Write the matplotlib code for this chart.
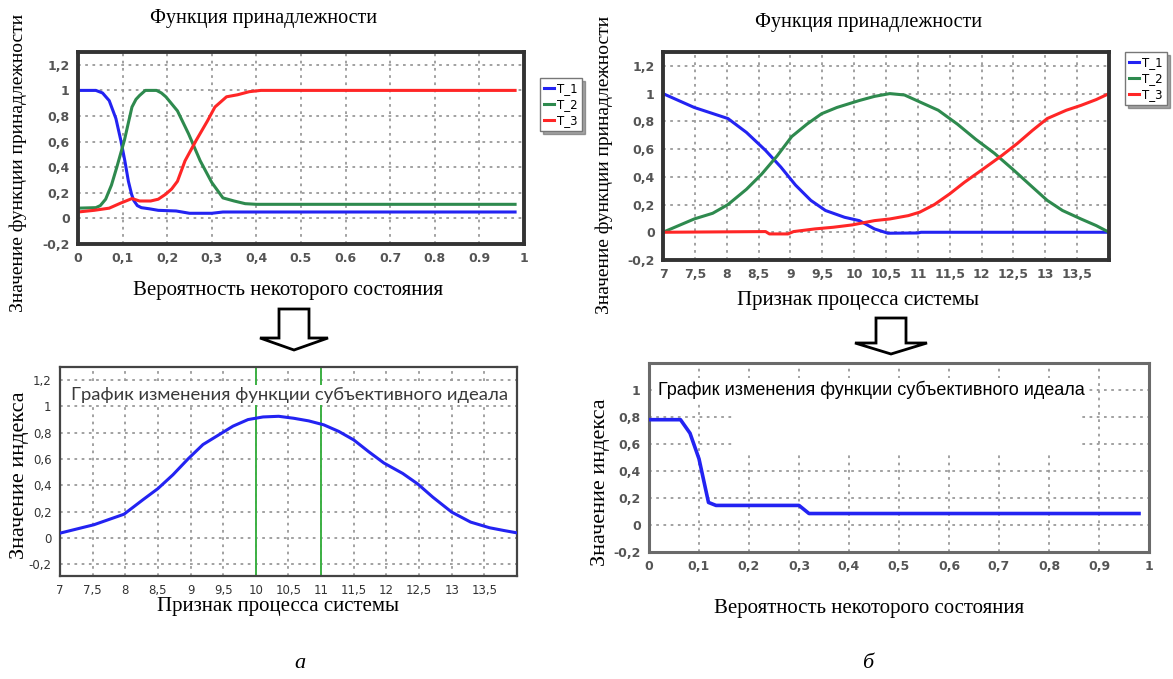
import matplotlib
matplotlib.use("Agg")
import matplotlib.pyplot as plt
from matplotlib.patches import Polygon, Rectangle

# ---- data ----
# top left: membership functions over probability
p_t1_x = [0, 0.04, 0.055, 0.07, 0.085, 0.096, 0.105, 0.113, 0.12, 0.125, 0.133, 0.142, 0.16,
          0.18, 0.22, 0.25, 0.3, 0.325, 0.98]
p_t1_y = [1.0, 1.0, 0.98, 0.92, 0.78, 0.61, 0.45, 0.29, 0.19, 0.14, 0.1, 0.084, 0.075,
          0.063, 0.058, 0.04, 0.04, 0.05, 0.05]
p_t2_x = [0, 0.04, 0.05, 0.062, 0.075, 0.087, 0.104, 0.121, 0.13, 0.138, 0.151, 0.176, 0.187,
          0.197, 0.223, 0.248, 0.274, 0.3, 0.325, 0.35, 0.375, 0.4, 0.98]
p_t2_y = [0.08, 0.084, 0.1, 0.15, 0.26, 0.4, 0.61, 0.87, 0.93, 0.96, 1.0, 1.0, 0.98,
          0.95, 0.84, 0.66, 0.45, 0.28, 0.16, 0.136, 0.115, 0.11, 0.11]
p_t3_x = [0, 0.036, 0.07, 0.096, 0.121, 0.138, 0.163, 0.18, 0.197, 0.21, 0.223, 0.24, 0.265,
          0.29, 0.307, 0.333, 0.358, 0.384, 0.41, 0.98]
p_t3_y = [0.05, 0.063, 0.08, 0.12, 0.155, 0.136, 0.136, 0.15, 0.19, 0.23, 0.29, 0.45, 0.61,
          0.76, 0.87, 0.95, 0.966, 0.99, 1.0, 1.0]

# top right: membership functions over system feature
s_t1_x = [7, 7.49, 8.02, 8.31, 8.61, 8.85, 9.08, 9.32, 9.55, 9.85, 10.08, 10.32, 10.53,
          11.0, 11.05, 14.0]
s_t1_y = [1.0, 0.9, 0.82, 0.72, 0.59, 0.47, 0.34, 0.23, 0.157, 0.108, 0.084, 0.024, -0.007,
          -0.005, 0.0, 0.0]
s_t2_x = [7, 7.49, 7.78, 8.02, 8.31, 8.55, 8.79, 9.02, 9.26, 9.49, 9.73, 10.08, 10.32, 10.56,
          10.79, 11.03, 11.32, 11.62, 11.91, 12.2, 12.5, 12.8, 13.03, 13.27, 13.56, 13.8, 14.0]
s_t2_y = [0.0, 0.096, 0.137, 0.2, 0.31, 0.42, 0.55, 0.69, 0.78, 0.855, 0.9, 0.95, 0.98, 1.0,
          0.99, 0.94, 0.88, 0.78, 0.67, 0.57, 0.45, 0.325, 0.23, 0.157, 0.096, 0.048, 0.0]
s_t3_x = [7, 8.61, 8.67, 8.96, 9.05, 9.38, 9.67, 9.97, 10.32, 10.56, 10.85, 11.03, 11.26,
          11.5, 11.73, 12.03, 12.32, 12.56, 12.8, 13.03, 13.33, 13.56, 13.8, 14.0]
s_t3_y = [0.0, 0.005, -0.012, -0.012, 0.005, 0.024, 0.036, 0.053, 0.084, 0.096, 0.12, 0.145,
          0.2, 0.277, 0.36, 0.458, 0.554, 0.64, 0.735, 0.82, 0.88, 0.915, 0.957, 1.0]

# bottom left: subjective ideal over system feature
ideal_a_x = [7, 7.52, 7.98, 8.27, 8.5, 8.73, 8.96, 9.19, 9.42, 9.65, 9.88, 10.11, 10.35,
             10.58, 10.81, 11.04, 11.27, 11.5, 11.73, 11.96, 12.25, 12.48, 12.71, 13.0,
             13.29, 13.58, 13.8, 14.0]
ideal_a_y = [0.036, 0.10, 0.18, 0.29, 0.375, 0.48, 0.6, 0.71, 0.78, 0.85, 0.9, 0.92, 0.925,
             0.91, 0.89, 0.86, 0.81, 0.745, 0.655, 0.57, 0.49, 0.41, 0.31, 0.196,
             0.12, 0.077, 0.056, 0.038]
ideal_bounds = [10, 11]

# bottom right: subjective ideal over probability
ideal_b_x = [0, 0.063, 0.082, 0.1, 0.119, 0.134, 0.3, 0.32, 0.98]
ideal_b_y = [0.78, 0.78, 0.68, 0.49, 0.167, 0.145, 0.145, 0.085, 0.085]

prob_ticks = [0, 0.1, 0.2, 0.3, 0.4, 0.5, 0.6, 0.7, 0.8, 0.9, 1]
prob_labels_a = ["0", "0,1", "0,2", "0,3", "0,4", "0.5", "0.6", "0.7", "0.8", "0.9", "1"]
prob_labels_b = ["0", "0,1", "0,2", "0,3", "0,4", "0,5", "0,6", "0,7", "0,8", "0,9", "1"]
feat_ticks = [7, 7.5, 8, 8.5, 9, 9.5, 10, 10.5, 11, 11.5, 12, 12.5, 13, 13.5]
feat_labels = ["7", "7,5", "8", "8,5", "9", "9,5", "10", "10,5", "11", "11,5", "12",
               "12,5", "13", "13,5"]
val_ticks = [-0.2, 0, 0.2, 0.4, 0.6, 0.8, 1, 1.2]
val_labels = ["-0,2", "0", "0,2", "0,4", "0,6", "0,8", "1", "1,2"]

BLUE = "#2323f2"
GREEN = "#2e8a4e"
RED = "#ff2626"
SERIF = "Liberation Serif"
IDEAL_TITLE = "График изменения функции субъективного идеала"

W, H = 1173, 679
fig = plt.figure(figsize=(W / 100, H / 100), dpi=100)


def px_axes(l, t, r, b):
    return fig.add_axes([l / W, 1 - b / H, (r - l) / W, (b - t) / H])


def px_text(x, y, s, **kw):
    fig.text(x / W, 1 - y / H, s, ha="center", va="center", **kw)


def style(ax, xt, xl, yt, yl, spine_c, spine_w, tick_kw):
    ax.set_xticks(xt)
    ax.set_xticklabels(xl)
    ax.set_yticks(yt)
    ax.set_yticklabels(yl)
    ax.tick_params(length=0, pad=6, colors="#444", labelsize=9)
    for lab in ax.get_xticklabels() + ax.get_yticklabels():
        lab.set(**tick_kw)
    ax.grid(True, linestyle=(0, (1.5, 2.5)), color="#9a9a9a", linewidth=1.3)
    ax.set_axisbelow(True)
    for s in ax.spines.values():
        s.set_color(spine_c)
        s.set_linewidth(spine_w)


def add_legend(ax, anchor):
    ax.legend(loc="upper left", bbox_to_anchor=anchor, fontsize=8.5, handlelength=0.8,
              handletextpad=0.3, borderpad=0.35, labelspacing=0.25, fancybox=False,
              shadow=True, edgecolor="#777", borderaxespad=0)


bold = dict(fontweight="bold", family="DejaVu Sans", color="#555")

# ---- top left ----
ax1 = px_axes(78, 52, 524, 244)
ax1.plot(p_t1_x, p_t1_y, color=BLUE, lw=2.2, label="T_1")
ax1.plot(p_t2_x, p_t2_y, color=GREEN, lw=2.2, label="T_2")
ax1.plot(p_t3_x, p_t3_y, color=RED, lw=2.2, label="T_3")
ax1.set_xlim(0, 1)
ax1.set_ylim(-0.2, 1.3)
style(ax1, prob_ticks, prob_labels_a, val_ticks, val_labels, "#333", 2.8, bold)
add_legend(ax1, (1.036, 0.865))

# ---- top right ----
ax2 = px_axes(663, 52, 1109, 260)
ax2.plot(s_t1_x, s_t1_y, color=BLUE, lw=2.2, label="T_1")
ax2.plot(s_t2_x, s_t2_y, color=GREEN, lw=2.2, label="T_2")
ax2.plot(s_t3_x, s_t3_y, color=RED, lw=2.2, label="T_3")
ax2.set_xlim(7, 14)
ax2.set_ylim(-0.2, 1.3)
style(ax2, feat_ticks, feat_labels, val_ticks, val_labels, "#333", 2.8, bold)
add_legend(ax2, (1.036, 1.0))

# ---- bottom left ----
ax3 = px_axes(60, 367, 517, 576)
ax3.plot(ideal_a_x, ideal_a_y, color=BLUE, lw=2.2, zorder=3)
for xb in ideal_bounds:
    ax3.axvline(xb, color="#3cb043", lw=1.4, zorder=2)
ax3.set_xlim(7, 14)
ax3.set_ylim(-0.29, 1.3)
style(ax3, feat_ticks, feat_labels, val_ticks, val_labels, "#444", 1.6,
      dict(family="DejaVu Sans", color="#333", fontsize=8.5))
ax3.text(10.52, 1.09, IDEAL_TITLE, ha="center", va="center", family="Lato",
         fontsize=13.3, color="#3a3a3a", zorder=4,
         bbox=dict(facecolor="white", edgecolor="none", pad=1.5))

# ---- bottom right ----
# the grid is blanked out around the caption in the original
ax4 = px_axes(649, 363, 1149, 552)
ax4.add_patch(Rectangle((0.168, 0.55), 0.694, 0.52, facecolor="white", edgecolor="none",
                        zorder=1.5))
ax4.plot(ideal_b_x, ideal_b_y, color=BLUE, lw=2.6, zorder=3)
ax4.set_xlim(0, 1)
ax4.set_ylim(-0.2, 1.2)
style(ax4, prob_ticks, prob_labels_b, val_ticks[:-1], val_labels[:-1], "#6a6a6a", 2.2, bold)
ax4.text(0.018, 1.0, IDEAL_TITLE, ha="left", va="center", family="Liberation Sans",
         fontsize=13, color="black", zorder=4,
         bbox=dict(facecolor="white", edgecolor="none", pad=2))

# ---- captions ----
px_text(264, 18, "Функция принадлежности", family=SERIF, fontsize=14.5)
px_text(869, 22, "Функция принадлежности", family=SERIF, fontsize=14.5)
px_text(18, 163, "Значение функции принадлежности", family=SERIF, fontsize=14, rotation=90)
px_text(604, 165, "Значение функции принадлежности", family=SERIF, fontsize=14, rotation=90)
px_text(288, 290, "Вероятность некоторого состояния", family=SERIF, fontsize=15)
px_text(858, 301, "Признак процесса системы", family=SERIF, fontsize=15)
px_text(20, 475, "Значение индекса", family=SERIF, fontsize=16, rotation=90)
px_text(600, 482, "Значение индекса", family=SERIF, fontsize=16, rotation=90)
px_text(278, 606, "Признак процесса системы", family=SERIF, fontsize=15)
px_text(869, 608, "Вероятность некоторого состояния", family=SERIF, fontsize=15)
px_text(300, 664, "а", family=SERIF, fontsize=16, style="italic")
px_text(868, 664, "б", family=SERIF, fontsize=16, style="italic")


# ---- block arrows between panels ----
def block_arrow(cx, top, shaft_bot, tip, half_shaft, half_head):
    pts = [(cx - half_shaft, top), (cx + half_shaft, top), (cx + half_shaft, shaft_bot),
           (cx + half_head, shaft_bot), (cx, tip), (cx - half_head, shaft_bot),
           (cx - half_shaft, shaft_bot)]
    pts = [(x / W, 1 - y / H) for x, y in pts]
    fig.patches.append(Polygon(pts, closed=True, facecolor="white", edgecolor="black",
                               lw=2, transform=fig.transFigure, figure=fig))


block_arrow(294, 309, 338, 350, 15, 34)
block_arrow(891, 318, 343, 354, 15, 36)

fig.savefig("out.png", dpi=100)
